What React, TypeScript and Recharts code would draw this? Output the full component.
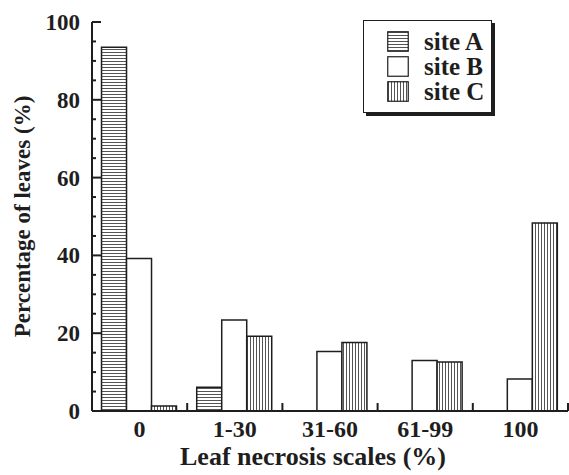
import { BarChart, Bar, XAxis, YAxis, Legend } from "recharts"

const categories = ["0", "1-30", "31-60", "61-99", "100"]
const siteA = [93.5, 6.1, 0, 0, 0]
const siteB = [39.2, 23.4, 15.3, 13.0, 8.2]
const siteC = [1.3, 19.2, 17.6, 12.6, 48.3]
const seriesNames = ["site A", "site B", "site C"]
const yTicks = [0, 5, 10, 15, 20, 25, 30, 35, 40, 45, 50, 55, 60, 65, 70, 75, 80, 85, 90, 95, 100]

const INK = "#1e1e1e"
const FONT = "'Liberation Serif', 'Times New Roman', serif"
const PLOT_W = 476

const chartData = categories.map((c, i) => ({
  scale: c,
  a: siteA[i],
  b: siteB[i],
  c: siteC[i],
}))

const fills = ["url(#hatchH)", "#ffffff", "url(#hatchV)"]

function XTick(props: any) {
  const { x, y, payload } = props
  const half = PLOT_W / categories.length / 2
  return (
    <g>
      <line x1={x + half} y1={y} x2={x + half} y2={y - 8} stroke={INK} strokeWidth={2} />
      <text
        x={x}
        y={y + 26}
        textAnchor="middle"
        fontFamily={FONT}
        fontWeight="bold"
        fontSize={24}
        fill={INK}
      >
        {payload.value}
      </text>
    </g>
  )
}

function YTick(props: any) {
  const { x, y, payload } = props
  const major = payload.value % 20 === 0
  return (
    <g>
      <line x1={x} y1={y} x2={x + (major ? 9 : 4)} y2={y} stroke={INK} strokeWidth={2} />
      {major && (
        <text
          x={x - 12}
          y={y}
          dy="0.35em"
          textAnchor="end"
          fontFamily={FONT}
          fontWeight="bold"
          fontSize={23}
          fill={INK}
        >
          {payload.value}
        </text>
      )}
    </g>
  )
}

function LegendBox() {
  return (
    <div
      style={{
        boxSizing: "border-box",
        width: 129,
        height: 93,
        border: `1.5px solid ${INK}`,
        background: "#fff",
        boxShadow: `3px 3px 0 ${INK}`,
        paddingTop: 8,
        fontFamily: FONT,
        fontWeight: "bold",
        fontSize: 25,
        color: INK,
      }}
    >
      {seriesNames.map((name, i) => (
        <div key={name} style={{ display: "flex", alignItems: "center", height: 25 }}>
          <svg width={22} height={21} style={{ marginLeft: 23, marginRight: 15 }}>
            <rect x={0.75} y={0.75} width={20.5} height={19.5} fill={fills[i]} stroke={INK} strokeWidth={1.2} />
          </svg>
          <span style={{ lineHeight: "25px" }}>{name}</span>
        </div>
      ))}
    </div>
  )
}

export default function App() {
  return (
    <div style={{ position: "absolute", left: 0, top: 0, background: "#fff" }}>
      <svg width={0} height={0} style={{ position: "absolute" }}>
        <defs>
          <pattern id="hatchH" patternUnits="userSpaceOnUse" width={3} height={3}>
            <rect width={3} height={3} fill="#fff" />
            <line x1={0} y1={1.5} x2={3} y2={1.5} stroke="#555" strokeWidth={1} />
          </pattern>
          <pattern id="hatchV" patternUnits="userSpaceOnUse" width={3} height={3}>
            <rect width={3} height={3} fill="#fff" />
            <line x1={1.5} y1={0} x2={1.5} y2={3} stroke="#555" strokeWidth={1} />
          </pattern>
        </defs>
      </svg>
      <BarChart
        width={569}
        height={475}
        data={chartData}
        margin={{ top: 22, right: 1, bottom: 0, left: 0 }}
        barCategoryGap="10%"
        barGap={0}
      >
        <XAxis
          dataKey="scale"
          height={64}
          tickSize={0}
          tickMargin={0}
          axisLine={{ stroke: INK, strokeWidth: 2 }}
          tickLine={false}
          tick={XTick}
          interval={0}
          label={{
            content: ({ viewBox }: any) => (
              <text
                x={viewBox.x + viewBox.width / 2 - 17}
                y={viewBox.y + 54}
                textAnchor="middle"
                fontFamily={FONT}
                fontWeight="bold"
                fontSize={26}
                fill={INK}
              >
                Leaf necrosis scales (%)
              </text>
            ),
          }}
        />
        <YAxis
          width={92}
          domain={[0, 100]}
          ticks={yTicks}
          interval={0}
          tickSize={0}
          tickMargin={0}
          axisLine={{ stroke: INK, strokeWidth: 2 }}
          tickLine={false}
          tick={YTick}
          label={{
            content: ({ viewBox }: any) => (
              <text
                x={22}
                y={viewBox.y + viewBox.height / 2}
                transform={`rotate(-90, 22, ${viewBox.y + viewBox.height / 2})`}
                dy="0.35em"
                textAnchor="middle"
                fontFamily={FONT}
                fontWeight="bold"
                fontSize={23}
                fill={INK}
              >
                Percentage of leaves (%)
              </text>
            ),
          }}
        />
        <Legend
          layout="vertical"
          align="center"
          verticalAlign="middle"
          wrapperStyle={{ left: 363, top: 20, width: 132, height: 96 }}
          content={() => <LegendBox />}
        />
        <Bar dataKey="a" name="site A" fill="url(#hatchH)" stroke={INK} strokeWidth={1.5} isAnimationActive={false} />
        <Bar dataKey="b" name="site B" fill="#ffffff" stroke={INK} strokeWidth={1.5} isAnimationActive={false} />
        <Bar dataKey="c" name="site C" fill="url(#hatchV)" stroke={INK} strokeWidth={1.5} isAnimationActive={false} />
      </BarChart>
    </div>
  )
}
